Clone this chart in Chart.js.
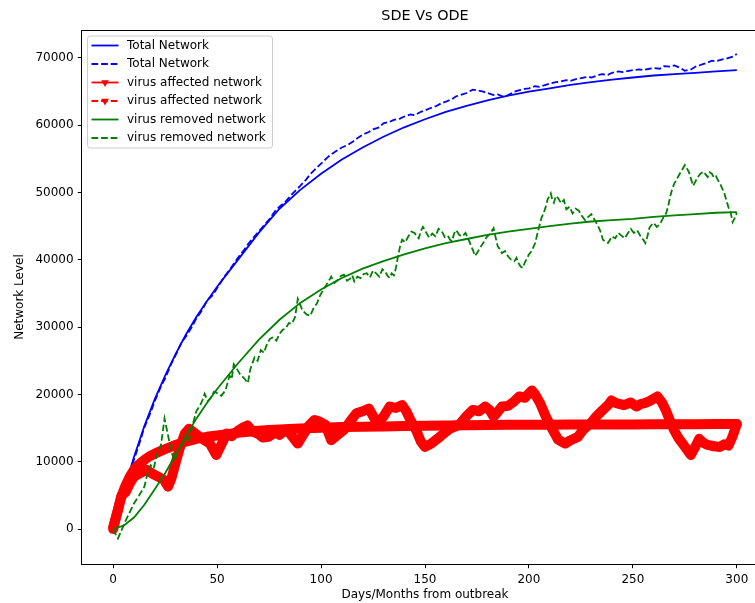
<!DOCTYPE html>
<html>
<head>
<meta charset="utf-8">
<title>SDE Vs ODE</title>
<script src="https://cdn.jsdelivr.net/npm/chart.js@4.4.0/dist/chart.umd.min.js"></script>
<style>
  html, body { margin: 0; padding: 0; background: #fff; overflow: hidden; }
  canvas { display: block; }
</style>
</head>
<body>
<canvas id="sde-ode-chart" width="790" height="603" style="width:790px;height:603px"></canvas>
<script>
/* Values */

// ODE solutions (smooth curves)
let odeDays = [0, 5, 10, 15, 20, 25, 30, 35, 40, 45, 50, 60, 70, 80, 90, 100, 110, 120, 130, 140,
  150, 160, 170, 180, 190, 200, 210, 220, 230, 240, 250, 260, 270, 280, 290, 300]
let totalOde = [0, 5500, 10700, 15300, 19300, 22800, 26000, 28900, 31500, 33800, 36000, 40000, 44000, 47600, 50400, 52800, 54900, 56700, 58300, 59700,
  60900, 62000, 62900, 63700, 64400, 65000, 65500, 66000, 66400, 66800, 67100, 67400, 67600, 67800, 68000, 68200]
let removedOde = [0, 500, 1700, 3600, 5900, 8300, 11000, 13800, 16400, 18700, 20800, 24600, 28100, 31100, 33600, 35600, 37300, 38700, 39800, 40800,
  41700, 42500, 43100, 43700, 44200, 44600, 45000, 45400, 45700, 45900, 46100, 46400, 46600, 46800, 47000, 47100]

let affectedOdeDays = [0, 1, 2, 3, 4, 5, 6, 8, 10, 12, 14, 16, 18, 20, 23, 26, 30, 35, 40, 45,
  50, 55, 60, 65, 70, 75, 80, 90, 100, 110, 120, 130, 140, 150, 160, 170, 180, 190, 200, 210,
  220, 230, 240, 250, 260, 270, 280, 290, 300]
let affectedOde = [0, 1300, 2500, 3700, 4800, 5700, 6500, 7800, 8800, 9500, 10000, 10500, 10900, 11200, 11600, 12000, 12500, 13000, 13400, 13700,
  13900, 14100, 14300, 14450, 14600, 14700, 14800, 14950, 15050, 15150, 15200, 15250, 15300, 15350, 15400, 15420, 15450, 15480, 15500, 15510,
  15520, 15530, 15540, 15550, 15560, 15570, 15580, 15590, 15600]

// SDE sample paths (noisy curves)
let totalSdeDays = [0, 3, 5, 8, 10, 13, 15, 18, 20, 23, 25, 28, 30, 33, 35, 38, 40, 43, 45, 48,
  50, 53, 55, 58, 60, 63, 65, 68, 70, 73, 75, 78, 80, 83, 85, 88, 90, 93, 95, 98,
  100, 103, 105, 108, 110, 113, 115, 118, 120, 123, 125, 128, 130, 133, 135, 138, 140, 143, 145, 148,
  150, 153, 155, 158, 160, 163, 165, 168, 170, 173, 175, 178, 180, 183, 185, 188, 190, 193, 195, 198,
  200, 203, 205, 208, 210, 213, 215, 218, 220, 223, 225, 228, 230, 233, 235, 238, 240, 243, 245, 248,
  250, 253, 255, 258, 260, 263, 265, 268, 270, 273, 275, 278, 280, 283, 285, 288, 290, 293, 295, 298, 300]
let totalSde = [0, 3000, 5200, 8400, 10300, 13100, 15100, 17300, 19000, 21200, 22400, 24600, 25800, 27800, 28600, 30100, 31300, 32600, 33900, 34800,
  35800, 37300, 38100, 39400, 40300, 41500, 42400, 43500, 44200, 45300, 46000, 47300, 47900, 48700, 49400, 50400, 51000, 52000, 52800, 53700,
  54300, 55200, 55700, 56300, 56700, 57100, 57500, 58200, 58600, 59000, 59400, 59700, 60300, 60500, 60800, 61000, 61300, 61600, 61500, 62000,
  62200, 62600, 62800, 63300, 63500, 63900, 64300, 64600, 64800, 65300, 65200, 65000, 64800, 64500, 64600, 64200, 64500, 65000, 65200, 65400,
  65500, 65800, 65700, 66000, 66200, 66400, 66500, 66700, 66600, 66900, 67000, 67200, 67100, 67400, 67600, 67500, 67800, 68000, 67900, 68100,
  68200, 68300, 68200, 68400, 68500, 68400, 68800, 68700, 68900, 68500, 68100, 68300, 68700, 69000, 69200, 69600, 69500, 69800, 69900, 70200, 70600]

let affectedSdeDays = [0, 2, 4, 6, 8, 10, 13, 16, 19, 22, 24.4, 26.4, 28, 30, 32, 34.5, 36.5, 39, 42, 44,
  46.5, 49.6, 52, 54.6, 57, 60, 62, 64.6, 67, 70, 72, 74.7, 78, 80, 82.7, 85, 88.8, 91, 94, 96.8,
  99, 102, 104.9, 108, 110.9, 114, 117, 120, 123, 125, 127, 130, 133, 136, 139, 141, 143, 146, 148, 150,
  153, 156, 159, 162, 165, 167, 170, 173, 176, 179, 181, 183, 185, 187, 190, 193, 195.4, 198, 201.4, 203,
  205.4, 208, 211.5, 214, 217.5, 220, 223.6, 226, 229.6, 232, 235.6, 238, 239.7, 242, 245.7, 249, 251.7, 254, 255.7, 258,
  261.8, 264, 265.8, 268, 269.8, 272, 273.9, 276, 277.9, 280, 281.9, 284, 286, 289, 292, 294, 296, 298, 300]
let affectedSde = [300, 2500, 5000, 5500, 6800, 7800, 8300, 8800, 8200, 7700, 7300, 6300, 7500, 9800, 12000, 14200, 14900, 14300, 13600, 13200,
  12700, 11000, 12500, 14200, 13800, 14600, 15000, 15400, 14500, 14100, 13600, 13700, 14400, 14000, 14700, 14200, 12700, 13800, 15300, 16200,
  16000, 15500, 13200, 14000, 14700, 16000, 17200, 17500, 17900, 16800, 15700, 16700, 18200, 18000, 18400, 17500, 16200, 14500, 13000, 12200,
  12700, 13400, 14200, 14900, 15300, 15700, 16800, 17700, 17500, 18200, 17700, 16700, 17400, 18200, 18300, 19000, 19700, 19500, 20600, 20000,
  18700, 16800, 14700, 13300, 12700, 13200, 13700, 14700, 15700, 16600, 17700, 18400, 19100, 18700, 18400, 18800, 18200, 18600, 18700, 19000,
  19700, 18800, 17700, 16000, 14700, 13500, 12700, 11800, 11000, 12200, 13400, 12800, 12500, 12300, 12200, 12600, 12400, 13800, 15600]

let removedSdeDays = [
  0, 1.4, 2.3, 4, 5.4, 7.5, 10, 12.5, 15, 16.5,
  18, 19.5, 21, 23, 24.7, 26, 27, 28.3, 29.5, 31,
  33, 35, 36.3, 37.5, 40, 42, 43, 44, 45.5, 47,
  48.5, 50, 52, 54, 56, 57, 58, 59.5, 61, 63,
  64.8, 66, 68, 69.5, 71, 72.5, 74, 75.5, 77, 78.5,
  80, 81.5, 83, 84.5, 86, 87.5, 88.8, 90, 91, 93,
  94.8, 96.5, 98, 99.5, 101, 103, 104.9, 106.5, 108, 109.5,
  111, 112.5, 114, 115, 116, 117.5, 119, 120.5, 122, 123.5,
  125, 126.5, 128, 129.5, 131, 132, 133, 134, 135, 136,
  137, 138, 139, 140.5, 142, 143.5, 145, 146, 147, 148,
  149, 150.5, 152, 153.5, 155, 156.5, 158, 159.5, 161, 162,
  163, 164, 165, 166.5, 168, 169.5, 171, 172, 173, 174,
  175, 176.5, 178, 179.5, 181, 182, 183, 184, 185, 186,
  187, 188.5, 190, 191.5, 193, 194, 195, 196, 197, 198,
  199, 200, 201, 202, 203, 204, 205, 206, 207, 208,
  209, 210.5, 211.2, 212, 213, 214, 215.5, 216.8, 218, 219.5,
  221, 222.5, 224, 225.5, 227, 228.5, 230, 231.5, 233, 234.3,
  235.6, 236.8, 238, 239, 240, 241.5, 243, 244.5, 246, 247.5,
  249, 250.5, 252, 253, 254, 255, 256, 257, 258, 259,
  260, 261.5, 263, 264.5, 266, 267, 268, 269, 270, 271,
  272, 273.5, 275, 276, 277, 278, 279, 280, 281, 282.5,
  284, 285, 286, 287, 288, 289, 290, 291, 292, 293,
  294, 295, 296, 297, 298, 299, 300]
let removedSde = [
  0, -900, -1400, -200, 850, 2200, 3800, 5000, 6300, 8200,
  9500, 9000, 11000, 12500, 16400, 14500, 13000, 11200, 10200, 11500,
  12500, 13600, 13000, 14700, 17500, 18500, 19200, 20100, 19000, 19500,
  20400, 20200, 19800, 20600, 22800, 22300, 24500, 23800, 23000, 22400,
  21700, 23800, 25500, 25000, 26600, 26200, 27500, 28300, 28500, 28000,
  29000, 29600, 29800, 30600, 30500, 31500, 34200, 33300, 32500, 31900,
  31700, 32900, 33500, 34700, 35500, 36500, 37500, 36600, 37000, 37600,
  37800, 36900, 37200, 37700, 36800, 37500, 37300, 37900, 38000, 37400,
  38400, 38000, 37500, 38600, 38200, 37600, 37300, 38000, 37700, 38800,
  40500, 42000, 43000, 42600, 43500, 44200, 44000, 43500, 43200, 44300,
  44900, 44100, 43300, 43900, 43500, 44600, 44300, 43400, 43600, 43000,
  42800, 43900, 44400, 43700, 43500, 44000, 43000, 42200, 41500, 40600,
  41000, 41800, 42500, 43300, 43800, 44200, 44700, 43300, 42000, 41600,
  41000, 41300, 40500, 40000, 39800, 40300, 39500, 39000, 38800, 39600,
  40200, 40800, 41200, 41800, 42500, 43800, 45000, 46200, 46900, 47800,
  49000, 49900, 49000, 48500, 49500, 49200, 48400, 48900, 47500, 47900,
  46900, 47600, 47300, 46500, 45900, 46400, 46800, 46000, 45200, 44300,
  43000, 42700, 42500, 43000, 43500, 43200, 44000, 43600, 43200, 43900,
  44600, 44000, 44400, 43900, 43300, 43000, 42500, 43500, 44800, 45200,
  45500, 44900, 45300, 46200, 46900, 48000, 49500, 50600, 51400, 51900,
  52500, 53300, 54100, 53600, 53000, 52000, 51000, 51600, 52200, 52800,
  53100, 52700, 52300, 53000, 52800, 52200, 52400, 51800, 51300, 50600,
  49900, 48800, 47800, 47100, 45600, 46200, 47000]

let xTicks = [0, 50, 100, 150, 200, 250, 300]
let yTicks = [0, 10000, 20000, 30000, 40000, 50000, 60000, 70000]

let fontFamily = '"DejaVu Sans", sans-serif'
let dashed = [6.7, 2.9]

// pairs the days with the values for a linear x scale
function toPoints(days, values) {
  return days.map(function(d, i) { return { x: d, y: values[i] } })
}

// only keep the ticks that are in the list
function keepTicks(list) {
  return function(scale) {
    scale.ticks = list.map(function(v) { return { value: v } })
  }
}

// spines, legend and title drawn by hand (the red entries need a line and a triangle)
let cornerLegend = {
  id: 'cornerLegend',
  afterDatasetsDraw(chart) {
    let ctx = chart.ctx
    let area = chart.chartArea

    // the four spines
    ctx.save()
    ctx.strokeStyle = '#000'
    ctx.lineWidth = 1
    ctx.strokeRect(area.left - 0.5, area.top + 0.5, area.right - area.left + 1, area.bottom - area.top)

    let left = area.left + 5.5
    let top = area.top + 6
    ctx.fillStyle = 'rgba(255,255,255,0.8)'
    ctx.strokeStyle = '#cccccc'
    ctx.beginPath()
    ctx.roundRect(left, top, 185, 112, 3)
    ctx.fill()
    ctx.stroke()

    ctx.font = '12px ' + fontFamily
    ctx.textBaseline = 'middle'
    chart.data.datasets.forEach(function(ds, i) {
      let y = top + 9.5 + i * 18.5
      ctx.strokeStyle = ds.borderColor
      ctx.lineWidth = 1.8
      ctx.setLineDash(ds.legendDash || ds.borderDash || [])
      ctx.beginPath()
      ctx.moveTo(left + 4, y)
      ctx.lineTo(left + 31, y)
      ctx.stroke()
      ctx.setLineDash([])
      if (ds.legendMarker) {
        let cx = left + 17.5
        let r = 4.5
        ctx.fillStyle = ds.borderColor
        ctx.beginPath()
        ctx.moveTo(cx, y + r)
        ctx.lineTo(cx - r * 0.866, y - r / 2)
        ctx.lineTo(cx + r * 0.866, y - r / 2)
        ctx.closePath()
        ctx.fill()
      }
      ctx.fillStyle = '#000'
      ctx.fillText(ds.label, left + 39.5, y)
    })
    ctx.restore()
  },
  afterDraw(chart) {
    let ctx = chart.ctx
    let area = chart.chartArea
    ctx.save()
    ctx.fillStyle = '#000'
    ctx.font = '14.4px ' + fontFamily
    ctx.textAlign = 'center'
    ctx.textBaseline = 'middle'
    ctx.fillText('SDE Vs ODE', (area.left + area.right) / 2, 16.5)
    ctx.restore()
  }
}

let tickGrid = { drawOnChartArea: false, drawTicks: true, tickLength: 4.2, color: '#000', lineWidth: 1 }

let ctx = document.querySelector('#sde-ode-chart').getContext('2d')

let chart = new Chart(ctx, {
  type: 'line',
  data: {
    datasets: [
      { label: 'Total Network', data: toPoints(odeDays, totalOde), borderColor: '#0000ff', borderWidth: 1.8, order: 6 },
      { label: 'Total Network', data: toPoints(totalSdeDays, totalSde), borderColor: '#0000ff', borderWidth: 1.8, borderDash: dashed, order: 5 },
      // the red paths are a dense row of triangle markers, so they show as a thick band
      { label: 'virus affected network', data: toPoints(affectedOdeDays, affectedOde), borderColor: '#ff0000', borderWidth: 10,
        borderJoinStyle: 'round', borderCapStyle: 'round', legendMarker: true, order: 4 },
      { label: 'virus affected network', data: toPoints(affectedSdeDays, affectedSde), borderColor: '#ff0000', borderWidth: 10,
        borderJoinStyle: 'round', borderCapStyle: 'round', legendMarker: true, legendDash: dashed, order: 3 },
      { label: 'virus removed network', data: toPoints(odeDays, removedOde), borderColor: '#008000', borderWidth: 1.8, order: 2 },
      { label: 'virus removed network', data: toPoints(removedSdeDays, removedSde), borderColor: '#008000', borderWidth: 1.8, borderDash: dashed, order: 1 }
    ]
  },
  options: {
    responsive: false,
    animation: false,
    devicePixelRatio: 1,
    layout: { padding: { top: 30, right: 22, left: 0, bottom: 0 } },
    elements: { point: { radius: 0 }, line: { tension: 0, fill: false } },
    plugins: {
      legend: { display: false },
      tooltip: { enabled: false },
      title: { display: false }
    },
    scales: {
      x: {
        type: 'linear',
        min: -15,
        max: 315,
        afterBuildTicks: keepTicks(xTicks),
        afterFit: function(scale) { scale.height = 39 },
        ticks: { color: '#000', font: { size: 12, family: fontFamily }, padding: 4.2, maxRotation: 0, autoSkip: false,
          callback: function(v) { return String(v) } },
        grid: tickGrid,
        border: { display: false },
        title: { display: true, text: 'Days/Months from outbreak', color: '#000',
          font: { size: 12, family: fontFamily }, padding: { top: 0, bottom: 0.8 } }
      },
      y: {
        type: 'linear',
        min: -5200,
        max: 74160,
        afterBuildTicks: keepTicks(yTicks),
        afterFit: function(scale) { scale.width = 82 },
        ticks: { color: '#000', font: { size: 12, family: fontFamily }, padding: 4.2, autoSkip: false,
          callback: function(v) { return String(v) } },
        grid: tickGrid,
        border: { display: false },
        title: { display: true, text: 'Network Level', color: '#000',
          font: { size: 12, family: fontFamily }, padding: { top: 12.8, bottom: 0 } }
      }
    }
  },
  plugins: [cornerLegend]
})
</script>
</body>
</html>
